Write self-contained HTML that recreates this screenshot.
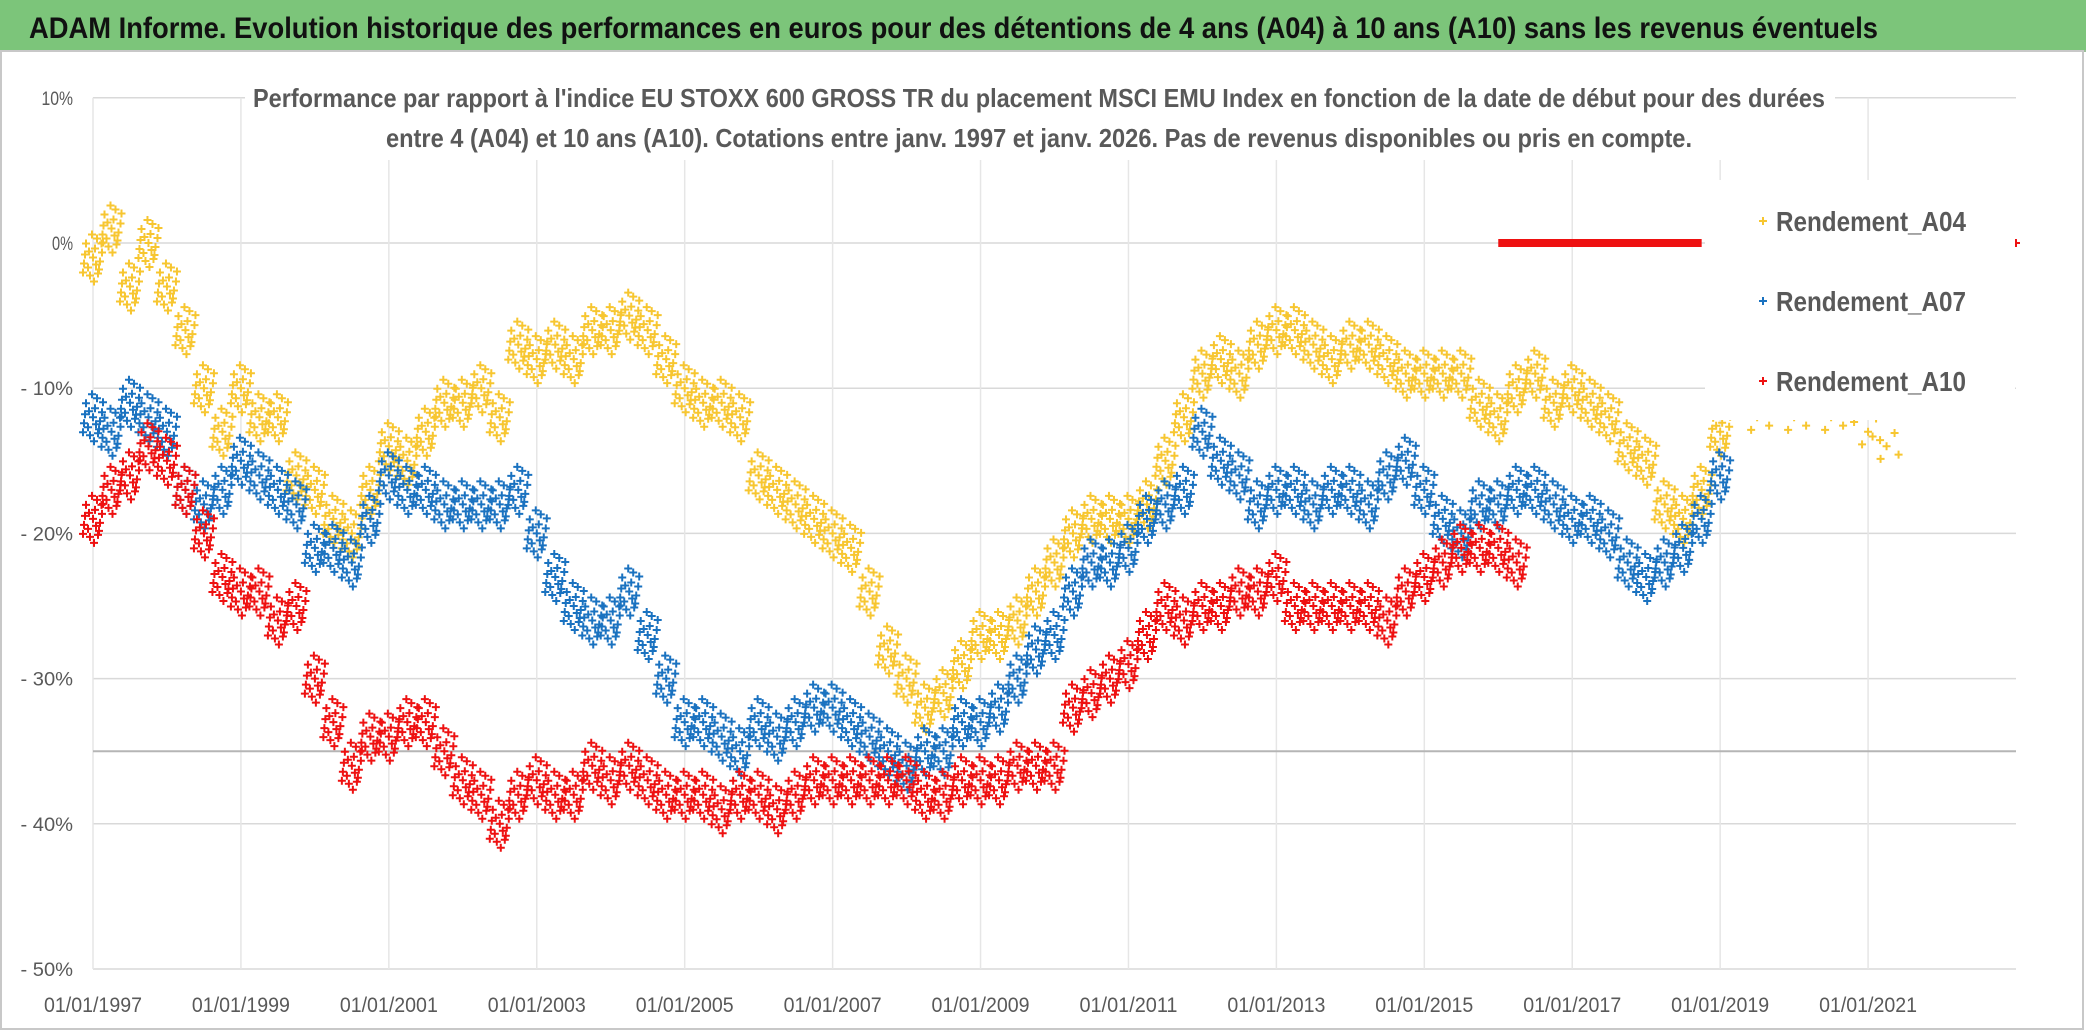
<!DOCTYPE html>
<html><head><meta charset="utf-8"><style>
body{margin:0;background:#fff;width:2086px;height:1031px;overflow:hidden;font-family:"Liberation Sans Narrow","Liberation Sans",sans-serif}
#bar{position:absolute;left:0;top:0;width:2086px;height:50px;background:#7cc57a;border-bottom:2px solid #9bbf9a}
svg{position:absolute;left:0;top:0}
</style></head><body>
<div id="bar"></div>
<svg id="c" width="2086" height="1031"></svg>
<script>
const yTicks=[10,0,-10,-20,-30,-40,-50];
const yTickLabels=["10%","0%","- 10%","- 20%","- 30%","- 40%","- 50%"];
const xTicks=[1997,1999,2001,2003,2005,2007,2009,2011,2013,2015,2017,2019,2021];
const a04Start=1997, a07Start=1997, a10Start=1997;
const a04=[-1,1,-3,0,-3,-6,-10,-13,-10,-12,-12,-16,-17,-19,-20,-17,-14,-15,-13,-11,-11,-10,-12,-7,-8,-7,-8,-6,-6,-5,-6,-8,-10,-11,-11,-12,-16,-17,-18,-19,-20,-21,-24,-28,-30,-32,-31,-29,-27,-27,-26,-24,-22,-20,-19,-19,-19,-18,-15,-12,-9,-8,-9,-7,-6,-6,-7,-8,-7,-7,-8,-9,-9,-9,-9,-11,-12,-10,-9,-11,-10,-11,-12,-14,-15,-18,-19,-17,-13];
const a04SparseX=[2019.5,2020.0,2020.5,2021.0,2021.25];
const a04SparseY=[-12,-12,-12,-13,-14];
const a07=[-12,-13,-11,-12,-13,-17,-18,-17,-15,-16,-17,-18,-21,-21,-22,-19,-16,-17,-17,-18,-18,-18,-18,-17,-20,-23,-25,-26,-26,-24,-27,-30,-33,-33,-34,-35,-33,-34,-33,-32,-32,-33,-34,-35,-36,-35,-35,-33,-33,-32,-30,-28,-27,-24,-22,-22,-21,-19,-18,-17,-13,-15,-16,-18,-17,-17,-18,-17,-17,-18,-16,-15,-17,-19,-20,-18,-18,-17,-17,-18,-19,-19,-20,-22,-23,-22,-21,-19,-16];
const a10=[-19,-17,-16,-14,-15,-17,-20,-23,-24,-24,-26,-25,-30,-33,-36,-34,-34,-33,-33,-35,-37,-38,-40,-38,-37,-38,-38,-36,-37,-36,-37,-38,-38,-38,-39,-38,-38,-39,-38,-37,-37,-37,-37,-37,-37,-38,-38,-37,-37,-37,-36,-36,-36,-32,-31,-30,-29,-27,-25,-26,-25,-25,-24,-24,-23,-25,-25,-25,-25,-25,-26,-24,-23,-22,-21,-21,-21,-22];
const zeroSegStart=2016.0, zeroSegEnd=2018.75, zeroPointX=2023;
const legendNames=["Rendement_A04","Rendement_A07","Rendement_A10"];

const L=93,R=2016,Y0=243,PX=14.52;
const xs=t=>L+(t-1997)*(R-L)/26;
const ys=v=>Y0-v*PX;
const svg=document.getElementById('c');
const NS='http://www.w3.org/2000/svg';
function mk(tag,at){const e=document.createElementNS(NS,tag);for(const k in at)e.setAttribute(k,at[k]);svg.appendChild(e);return e;}
function txt(s,at){const t=mk('text',Object.assign({lengthAdjust:'spacingAndGlyphs'},at));t.textContent=s;return t;}
const tt=txt("ADAM Informe. Evolution historique des performances en euros pour des détentions de 4 ans (A04) à 10 ans (A10) sans les revenus éventuels",{x:29,y:38,'font-size':30,'font-weight':'bold',fill:'#111',textLength:1849});


yTicks.forEach((v,i)=>{
 const g=mk('line',{x1:L,x2:R,y1:ys(v),y2:ys(v),stroke:'#d9d9d9','stroke-width':1.5});
 
 
 const t=txt(yTickLabels[i],{x:L-20,y:ys(v)+7,'text-anchor':'end','font-size':19,fill:'#595959',textLength:yTickLabels[i].length*10.5});
 
 
});
xTicks.forEach(y=>{
 const g=mk('line',{x1:xs(y),x2:xs(y),y1:ys(10),y2:ys(-50),stroke:'#e6e6e6','stroke-width':1.5});
 
 
 const t=txt('01/01/'+y,{x:xs(y)-49,y:1012,'font-size':21,fill:'#595959',textLength:98});
 
 
});
const ref=mk('line',{x1:L,x2:R,y1:ys(-35),y2:ys(-35),stroke:'#b5b5b5','stroke-width':2});


const sb=mk('rect',{x:245,y:75,width:1590,height:85,fill:'#fff'});


const sub1=txt("Performance par rapport à l'indice EU STOXX 600 GROSS TR  du placement MSCI EMU Index en fonction de la date de début pour des durées",{x:253,y:107,'font-size':26,'font-weight':'bold',fill:'#595959',textLength:1572});


const sub2=txt("entre 4 (A04) et 10 ans (A10). Cotations entre janv. 1997 et janv. 2026. Pas de revenus disponibles ou pris en compte.",{x:386,y:147,'font-size':26,'font-weight':'bold',fill:'#595959',textLength:1306});


const offs=[[0,0],[-7,-14],[6,12],[-3,18],[4,-19],[-9,6],[9,-5],[2,-9],[-5,10],[7,4],[-1,-23],[1,24],[-8,-3],[5,16],[-4,-6],[3,7],[-10,15],[10,-15]];
function cross(x,y,col,name){
 const p=mk('path',{d:`M${x-4},${y}H${x+4}M${x},${y-4}V${y+4}`,stroke:col,'stroke-width':2});
 
 
}
function series(arr,start,col,name){
 arr.forEach((v,i)=>{const x=xs(start+i*0.25),y=ys(v);offs.forEach(o=>cross(x+o[0],y+o[1],col,name));});
}
series(a04,a04Start,'#f7c630','point-a04');
a04SparseX.forEach((t,i)=>{offs.slice(0,5).forEach(o=>cross(xs(t)+o[0]*2,ys(a04SparseY[i])+o[1]*0.7,'#f7c630','point-a04'));});
series(a07,a07Start,'#1a72c0','point-a07');
series(a10,a10Start,'#ee1111','point-a10');
const zs=mk('rect',{x:xs(zeroSegStart),y:ys(0)-4,width:xs(zeroSegEnd)-xs(zeroSegStart),height:8,fill:'#ee1111'});


cross(xs(zeroPointX),ys(0),'#ee1111','point-a10');
const lb=mk('rect',{x:1705,y:180,width:310,height:240,fill:'#fff'});


const lc=['#f7c630','#1a72c0','#ee1111'];
legendNames.forEach((n,i)=>{
 const y=221+i*80;
 cross(1763,y,lc[i],'legend-marker');
 const t=txt(n,{x:1776,y:y+10,'font-size':28,'font-weight':'bold',fill:'#595959',textLength:190});
 
 
});
const fr=mk('rect',{x:1,y:51,width:2082,height:978,fill:'none',stroke:'#c8c8c8','stroke-width':2});


</script>
</body></html>
